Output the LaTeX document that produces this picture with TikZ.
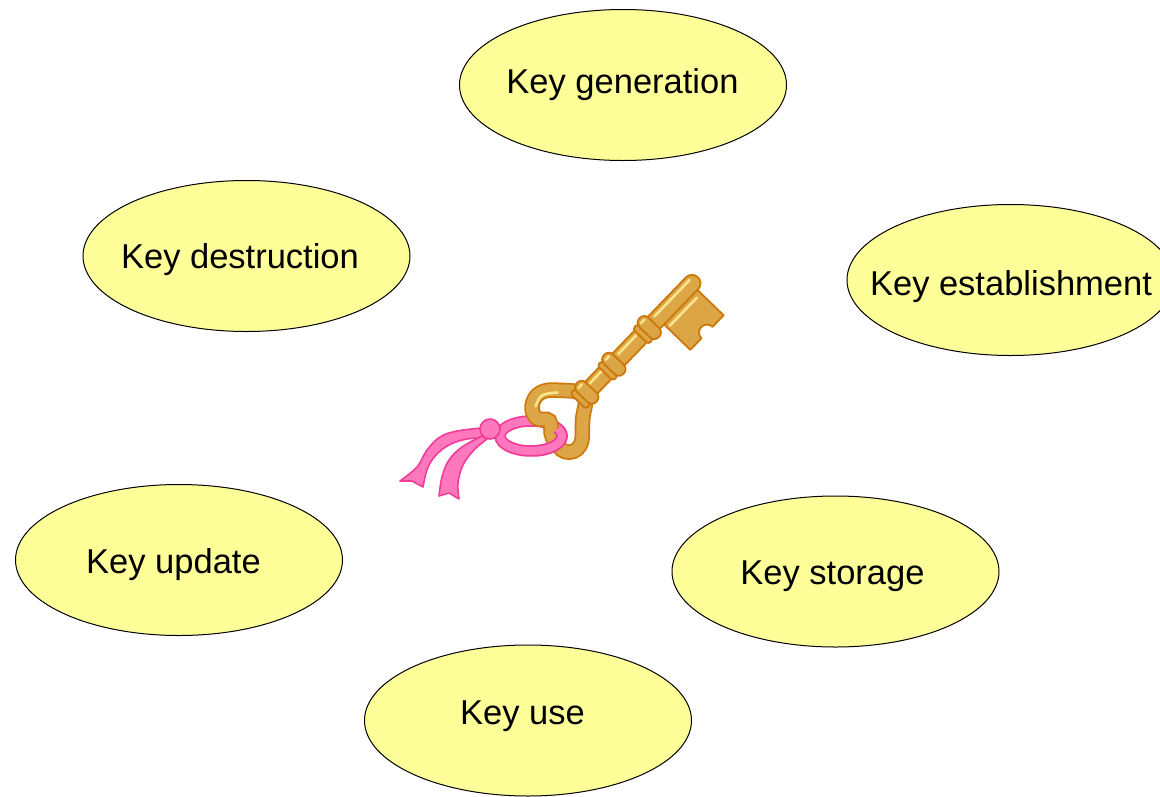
\documentclass[tikz,border=0pt]{standalone}
\usepackage{fontspec}
\setmainfont{Liberation Sans}
\usetikzlibrary{shapes.geometric}

\definecolor{stagefill}{RGB}{255,255,153}
\definecolor{keygold}{RGB}{220,165,70}
\definecolor{keyrim}{RGB}{204,120,10}
\definecolor{keyshine}{RGB}{250,228,140}
\definecolor{ribbonfill}{RGB}{255,120,190}
\definecolor{ribbonrim}{RGB}{240,60,150}

\begin{document}
\begin{tikzpicture}[x=1pt,y=-1pt,
  stage/.style={ellipse, draw=black, line width=1pt, fill=stagefill,
    minimum width=327pt, minimum height=151pt, inner sep=0pt},
  stagetext/.style={anchor=base, inner sep=0pt,
    font=\fontsize{34.5}{40}\selectfont},
  goldpart/.style={fill=keygold, draw=keyrim, line width=1.8pt, line join=round},
  shine/.style={draw=keyshine, line width=2.6pt, line cap=round},
  ribbonpart/.style={fill=ribbonfill, draw=ribbonrim, line width=1.6pt, line join=round}]

\useasboundingbox (0,0) rectangle (1160,796);

% lifecycle stages
\node[stage] (gen)     at (623,85)     {};
\node[stage] (destr)   at (246.5,256)  {};
\node[stage] (estab)   at (1010.5,280) {};
\node[stage] (upd)     at (179,560)    {};
\node[stage] (stor)    at (835.5,571.5){};
\node[stage] (use)     at (528,720.5)  {};

\node[stagetext] (gentext)   at (622.5,93)  {Key generation};
\node[stagetext] (destrtext) at (240,268)   {Key destruction};
\node[stagetext] (estabtext) at (1011,295)  {Key establishment};
\node[stagetext] (updtext)   at (173.5,573) {Key update};
\node[stagetext] (stortext)  at (832.5,584) {Key storage};
\node[stagetext] (usetext)   at (522.5,724) {Key use};

% ribbon loop, back part
\draw[ribbonrim, line width=11.5pt] (531,436) ellipse [x radius=31, y radius=15];
\draw[ribbonfill, line width=8pt] (531,436) ellipse [x radius=31, y radius=15];

% the key, drawn along its own axis
\begin{scope}[shift={(560,420)}, x=1pt, y=1pt, rotate=46]
  % bow
  \draw[keyrim, line width=15.5pt] plot[smooth cycle, tension=0.7] coordinates
    {(34,0) (21,21) (6,33) (-9,30) (-15,18) (-8,7) (-18,-7) (-19,-26) (-4,-32) (16,-16)};
  \draw[keygold, line width=12pt] plot[smooth cycle, tension=0.7] coordinates
    {(34,0) (21,21) (6,33) (-9,30) (-15,18) (-8,7) (-18,-7) (-19,-26) (-4,-32) (16,-16)};
  \draw[shine] plot[smooth, tension=0.7] coordinates {(18,21) (5,30) (-7,27)};
  % bit
  \draw[goldpart] (141,-5) -- (189,-5) -- (189,-45) -- (173,-45)
    arc[start angle=0, end angle=180, radius=8] -- (141,-45) -- cycle;
  \draw[shine] (144,-13.5) -- (183,-13.5);
  % shaft
  \draw[goldpart] (28,-8.5) -- (190,-8.5) arc[start angle=-90, end angle=90, radius=8.5]
    -- (28,8.5) -- cycle;
  \draw[shine] (44,4) -- (64,4);
  \draw[shine] (88,4) -- (114,4);
  \draw[shine] (140,4) -- (191,4);
  % collars
  \foreach \c in {37,76,127} {
    \draw[goldpart, rounded corners=3pt] (\c-11,-11) rectangle (\c-4,11);
    \draw[goldpart, rounded corners=6pt] (\c-5,-13.5) rectangle (\c+8,13.5);
    \draw[shine] (\c-1,9) -- (\c+4,9);
  }
\end{scope}

% ribbon loop, front part
\draw[ribbonrim, line width=11.5pt] (536.4,450.8)
  arc[start angle=80, end angle=-30, x radius=31, y radius=15];
\draw[ribbonfill, line width=8pt] (536.4,450.8)
  arc[start angle=80, end angle=-30, x radius=31, y radius=15];

% ribbon tails
\draw[ribbonpart] plot[smooth, tension=0.6] coordinates
    {(482,428) (457,431) (440,437) (427,450) (417,467) (400,481)}
  -- (412,481) -- (423,487)
  -- plot[smooth, tension=0.6] coordinates
    {(423,487) (428,467) (438,453) (451,444) (467,439) (482,438)} -- cycle;
\draw[ribbonpart] plot[smooth, tension=0.6] coordinates
    {(482,436) (462,447) (449,460) (442,477) (439,496)}
  -- (449,493) -- (459,499)
  -- plot[smooth, tension=0.6] coordinates
    {(459,499) (458,483) (463,465) (474,450) (487,439)} -- cycle;

% knot
\draw[ribbonpart] (490,429) circle[radius=10];

\end{tikzpicture}
\end{document}
